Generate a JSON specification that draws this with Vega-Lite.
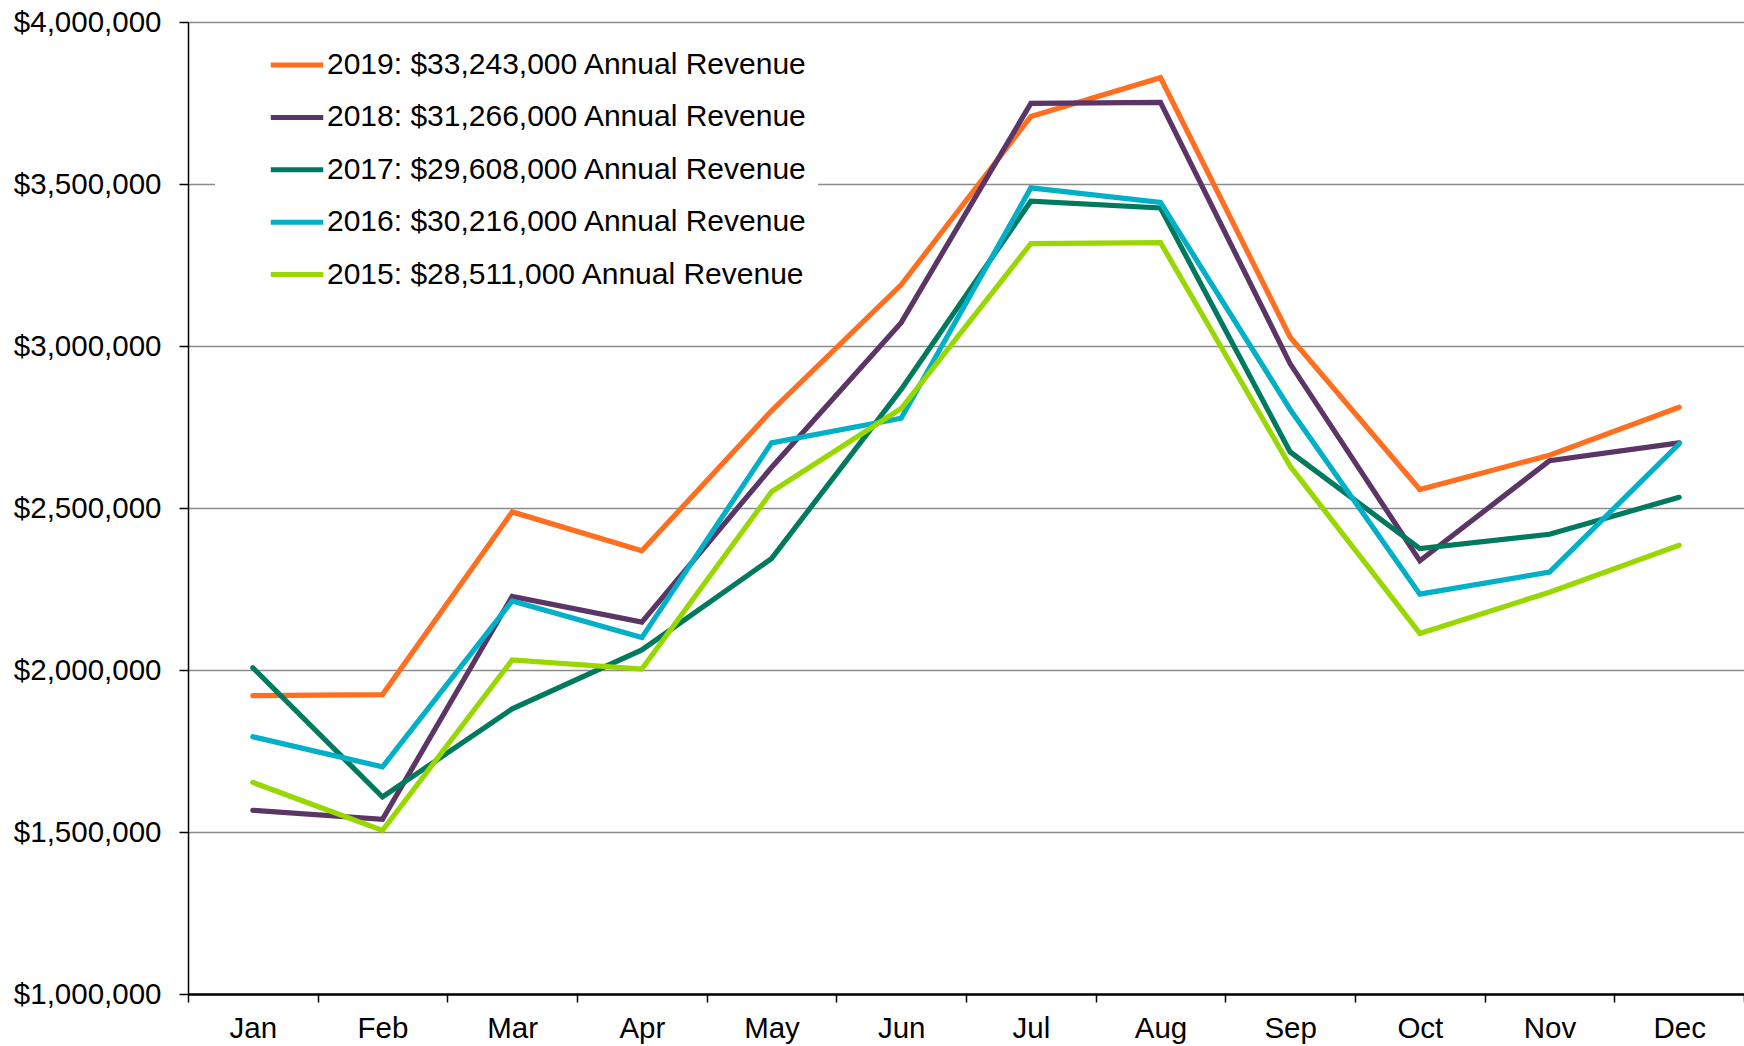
{
  "$schema": "https://vega.github.io/schema/vega-lite/v6.json",
  "width": 1556,
  "height": 972,
  "autosize": {"type": "none"},
  "padding": {"left": 188, "top": 22, "right": 0, "bottom": 52},
  "background": "white",
  "config": {
    "view": {"stroke": null},
    "font": "Liberation Sans",
    "axis": {"labelFont": "Liberation Sans", "labelColor": "#000000", "labelFontSize": 29.5, "title": null, "domainColor": "#000000", "tickColor": "#000000"},
    "legend": {"labelFont": "Liberation Sans", "labelColor": "#000000", "labelFontSize": 30, "labelLimit": 0}
  },
  "datasets": {
    "rev": [
      {"month": "Jan", "series": "2019: $33,243,000 Annual Revenue", "revenue": 1921000},
      {"month": "Feb", "series": "2019: $33,243,000 Annual Revenue", "revenue": 1924000},
      {"month": "Mar", "series": "2019: $33,243,000 Annual Revenue", "revenue": 2488000},
      {"month": "Apr", "series": "2019: $33,243,000 Annual Revenue", "revenue": 2368000},
      {"month": "May", "series": "2019: $33,243,000 Annual Revenue", "revenue": 2800000},
      {"month": "Jun", "series": "2019: $33,243,000 Annual Revenue", "revenue": 3189000},
      {"month": "Jul", "series": "2019: $33,243,000 Annual Revenue", "revenue": 3708000},
      {"month": "Aug", "series": "2019: $33,243,000 Annual Revenue", "revenue": 3828000},
      {"month": "Sep", "series": "2019: $33,243,000 Annual Revenue", "revenue": 3027000},
      {"month": "Oct", "series": "2019: $33,243,000 Annual Revenue", "revenue": 2557000},
      {"month": "Nov", "series": "2019: $33,243,000 Annual Revenue", "revenue": 2663000},
      {"month": "Dec", "series": "2019: $33,243,000 Annual Revenue", "revenue": 2811000},
      {"month": "Jan", "series": "2018: $31,266,000 Annual Revenue", "revenue": 1567000},
      {"month": "Feb", "series": "2018: $31,266,000 Annual Revenue", "revenue": 1539000},
      {"month": "Mar", "series": "2018: $31,266,000 Annual Revenue", "revenue": 2227000},
      {"month": "Apr", "series": "2018: $31,266,000 Annual Revenue", "revenue": 2148000},
      {"month": "May", "series": "2018: $31,266,000 Annual Revenue", "revenue": 2625000},
      {"month": "Jun", "series": "2018: $31,266,000 Annual Revenue", "revenue": 3072000},
      {"month": "Jul", "series": "2018: $31,266,000 Annual Revenue", "revenue": 3749000},
      {"month": "Aug", "series": "2018: $31,266,000 Annual Revenue", "revenue": 3752000},
      {"month": "Sep", "series": "2018: $31,266,000 Annual Revenue", "revenue": 2945000},
      {"month": "Oct", "series": "2018: $31,266,000 Annual Revenue", "revenue": 2337000},
      {"month": "Nov", "series": "2018: $31,266,000 Annual Revenue", "revenue": 2646000},
      {"month": "Dec", "series": "2018: $31,266,000 Annual Revenue", "revenue": 2701000},
      {"month": "Jan", "series": "2017: $29,608,000 Annual Revenue", "revenue": 2007000},
      {"month": "Feb", "series": "2017: $29,608,000 Annual Revenue", "revenue": 1608000},
      {"month": "Mar", "series": "2017: $29,608,000 Annual Revenue", "revenue": 1880000},
      {"month": "Apr", "series": "2017: $29,608,000 Annual Revenue", "revenue": 2062000},
      {"month": "May", "series": "2017: $29,608,000 Annual Revenue", "revenue": 2344000},
      {"month": "Jun", "series": "2017: $29,608,000 Annual Revenue", "revenue": 2866000},
      {"month": "Jul", "series": "2017: $29,608,000 Annual Revenue", "revenue": 3447000},
      {"month": "Aug", "series": "2017: $29,608,000 Annual Revenue", "revenue": 3426000},
      {"month": "Sep", "series": "2017: $29,608,000 Annual Revenue", "revenue": 2673000},
      {"month": "Oct", "series": "2017: $29,608,000 Annual Revenue", "revenue": 2375000},
      {"month": "Nov", "series": "2017: $29,608,000 Annual Revenue", "revenue": 2419000},
      {"month": "Dec", "series": "2017: $29,608,000 Annual Revenue", "revenue": 2533000},
      {"month": "Jan", "series": "2016: $30,216,000 Annual Revenue", "revenue": 1794000},
      {"month": "Feb", "series": "2016: $30,216,000 Annual Revenue", "revenue": 1701000},
      {"month": "Mar", "series": "2016: $30,216,000 Annual Revenue", "revenue": 2213000},
      {"month": "Apr", "series": "2016: $30,216,000 Annual Revenue", "revenue": 2100000},
      {"month": "May", "series": "2016: $30,216,000 Annual Revenue", "revenue": 2701000},
      {"month": "Jun", "series": "2016: $30,216,000 Annual Revenue", "revenue": 2777000},
      {"month": "Jul", "series": "2016: $30,216,000 Annual Revenue", "revenue": 3488000},
      {"month": "Aug", "series": "2016: $30,216,000 Annual Revenue", "revenue": 3443000},
      {"month": "Sep", "series": "2016: $30,216,000 Annual Revenue", "revenue": 2804000},
      {"month": "Oct", "series": "2016: $30,216,000 Annual Revenue", "revenue": 2234000},
      {"month": "Nov", "series": "2016: $30,216,000 Annual Revenue", "revenue": 2302000},
      {"month": "Dec", "series": "2016: $30,216,000 Annual Revenue", "revenue": 2698000},
      {"month": "Jan", "series": "2015: $28,511,000 Annual Revenue", "revenue": 1653000},
      {"month": "Feb", "series": "2015: $28,511,000 Annual Revenue", "revenue": 1505000},
      {"month": "Mar", "series": "2015: $28,511,000 Annual Revenue", "revenue": 2031000},
      {"month": "Apr", "series": "2015: $28,511,000 Annual Revenue", "revenue": 2003000},
      {"month": "May", "series": "2015: $28,511,000 Annual Revenue", "revenue": 2550000},
      {"month": "Jun", "series": "2015: $28,511,000 Annual Revenue", "revenue": 2807000},
      {"month": "Jul", "series": "2015: $28,511,000 Annual Revenue", "revenue": 3316000},
      {"month": "Aug", "series": "2015: $28,511,000 Annual Revenue", "revenue": 3319000},
      {"month": "Sep", "series": "2015: $28,511,000 Annual Revenue", "revenue": 2629000},
      {"month": "Oct", "series": "2015: $28,511,000 Annual Revenue", "revenue": 2113000},
      {"month": "Nov", "series": "2015: $28,511,000 Annual Revenue", "revenue": 2240000},
      {"month": "Dec", "series": "2015: $28,511,000 Annual Revenue", "revenue": 2385000}
    ]
  },
  "data": {"name": "rev"},
  "mark": {"type": "line", "strokeWidth": 5.2, "strokeCap": "round", "strokeJoin": "miter"},
  "encoding": {
    "x": {
      "field": "month",
      "type": "ordinal",
      "bandPosition": 0.5,
      "sort": ["Jan", "Feb", "Mar", "Apr", "May", "Jun", "Jul", "Aug", "Sep", "Oct", "Nov", "Dec"],
      "scale": {"type": "band", "paddingInner": 0, "paddingOuter": 0},
      "axis": {
        "labelAngle": 0,
        "tickBand": "extent",
        "tickSize": 8,
        "tickWidth": 1.5,
        "domainWidth": 2.5,
        "labelPadding": 12,
        "grid": false
      }
    },
    "y": {
      "field": "revenue",
      "type": "quantitative",
      "scale": {"domain": [1000000, 4000000], "nice": false, "zero": false},
      "axis": {
        "values": [1000000, 1500000, 2000000, 2500000, 3000000, 3500000, 4000000],
        "format": "$,.0f",
        "tickSize": 9,
        "tickWidth": 1.5,
        "domainWidth": 1.5,
        "labelPadding": 18,
        "grid": true,
        "gridColor": "#8c8c8c",
        "gridWidth": 1.7
      }
    },
    "color": {
      "field": "series",
      "type": "nominal",
      "scale": {
        "domain": ["2019: $33,243,000 Annual Revenue", "2018: $31,266,000 Annual Revenue", "2017: $29,608,000 Annual Revenue", "2016: $30,216,000 Annual Revenue", "2015: $28,511,000 Annual Revenue"],
        "range": ["#ff6f1f", "#5b3566", "#007a5e", "#00afc8", "#99d700"]
      },
      "legend": {
        "title": null,
        "orient": "none",
        "legendX": 27,
        "legendY": 4,
        "fillColor": "#ffffff",
        "padding": 10,
        "symbolType": "stroke",
        "symbolSize": 2750,
        "symbolStrokeWidth": 5,
        "symbolOffset": 43,
        "labelOffset": 1,
        "rowPadding": 8.4
      }
    }
  }
}
